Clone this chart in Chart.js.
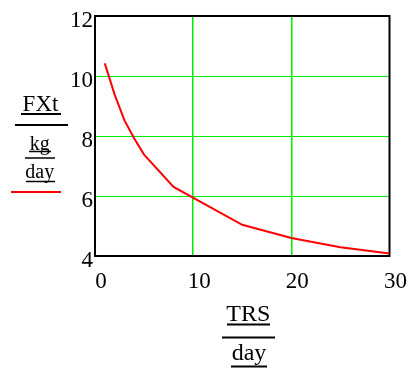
<!DOCTYPE html>
<html>
<head>
<meta charset="utf-8">
<script src="https://cdn.jsdelivr.net/npm/chart.js@4"></script>
<style>
  html, body { margin: 0; padding: 0; background: #fff; }
  canvas { display: block; }
</style>
</head>
<body>
<canvas id="myChart" width="413" height="374"></canvas>
<script>
// residence time (days) and feed rate (kg/day)
let trsDays = [1, 2, 3, 4, 5, 8, 15, 20, 25, 30];
let fxtValues = [10.42, 9.38, 8.52, 7.92, 7.38, 6.3, 5.04, 4.6, 4.29, 4.08];
let xTicks = [0, 10, 20, 30];
let yTicks = [4, 6, 8, 10, 12];

let serif = "'Liberation Serif', 'Times New Roman', serif";
let gridGreen = 'rgb(0, 235, 0)';

let points = [];
for (let i = 0; i < trsDays.length; i++) {
    points.push({ x: trsDays[i], y: fxtValues[i] });
}

function hLine(ctx, x1, x2, y, w, color) {
    ctx.beginPath();
    ctx.lineWidth = w;
    ctx.strokeStyle = color || '#000';
    ctx.moveTo(x1, y);
    ctx.lineTo(x2, y);
    ctx.stroke();
}

// grid only inside the box, the frame takes the outer ticks
function innerGrid(ticks) {
    return function (c) {
        let v = c.tick ? c.tick.value : null;
        return (v === ticks[0] || v === ticks[ticks.length - 1]) ? 'rgba(0,0,0,0)' : gridGreen;
    };
}

// black frame round the plot area
let frame = {
    id: 'frame',
    beforeDatasetsDraw(chart) {
        let a = chart.chartArea;
        let ctx = chart.ctx;
        ctx.save();
        ctx.lineWidth = 2;
        ctx.strokeStyle = '#000';
        ctx.strokeRect(a.left, a.top, a.right - a.left, a.bottom - a.top);
        ctx.restore();
    }
};

// stacked unit titles, drawn as fractions with underlines
let unitTitles = {
    id: 'unitTitles',
    afterDraw(chart) {
        let ctx = chart.ctx;
        ctx.save();
        ctx.fillStyle = '#000';
        ctx.textAlign = 'center';
        ctx.textBaseline = 'alphabetic';

        // y side: FXt over kg/day, with the series key below
        ctx.font = '23px ' + serif;
        ctx.fillText('FXt', 40.5, 110.5);
        hLine(ctx, 21, 61, 114, 2);
        hLine(ctx, 15, 68, 125, 2);
        ctx.font = '20px ' + serif;
        ctx.fillText('kg', 39.7, 149.5);
        hLine(ctx, 29, 51, 151.5, 1.5);
        hLine(ctx, 25, 55, 158, 1.5);
        ctx.fillText('day', 39.7, 177.5);
        hLine(ctx, 26, 55, 181.5, 1.5);
        hLine(ctx, 11, 61, 192, 2, '#ff0000');

        // x side: TRS over day
        ctx.font = '24px ' + serif;
        ctx.fillText('TRS', 248.3, 320.5);
        hLine(ctx, 227, 270, 324.5, 2);
        hLine(ctx, 222, 275, 337.5, 2);
        ctx.fillText('day', 249, 359.5);
        hLine(ctx, 231, 267, 366.5, 2);
        ctx.restore();
    }
};

let ctx = document.getElementById('myChart').getContext('2d');
let myChart = new Chart(ctx, {
    type: 'line',
    data: {
        datasets: [{
            data: points,
            borderColor: '#ff0000',
            borderWidth: 2,
            pointRadius: 0,
            tension: 0,
            fill: false
        }]
    },
    options: {
        responsive: false,
        animation: false,
        layout: { padding: { left: 0, top: 16, right: 20, bottom: 0 } },
        plugins: {
            legend: { display: false },
            tooltip: { enabled: false }
        },
        scales: {
            x: {
                type: 'linear',
                min: xTicks[0],
                max: xTicks[xTicks.length - 1],
                afterBuildTicks: (s) => { s.ticks = xTicks.map(v => ({ value: v })); },
                afterFit: (s) => { s.height = 118; },
                border: { display: false },
                grid: { color: innerGrid(xTicks), lineWidth: 1.5, drawTicks: false },
                ticks: {
                    autoSkip: false,
                    maxRotation: 0,
                    padding: 12,
                    labelOffset: 6,
                    color: '#000',
                    font: { family: serif, size: 23 }
                }
            },
            y: {
                min: yTicks[0],
                max: yTicks[yTicks.length - 1],
                afterBuildTicks: (s) => { s.ticks = yTicks.map(v => ({ value: v })); },
                afterFit: (s) => { s.width = 95; },
                border: { display: false },
                grid: { color: innerGrid(yTicks), lineWidth: 1, drawTicks: false },
                ticks: {
                    autoSkip: false,
                    padding: 2,
                    labelOffset: 5,
                    color: '#000',
                    font: { family: serif, size: 23 }
                }
            }
        }
    },
    plugins: [frame, unitTitles]
});
</script>
</body>
</html>
